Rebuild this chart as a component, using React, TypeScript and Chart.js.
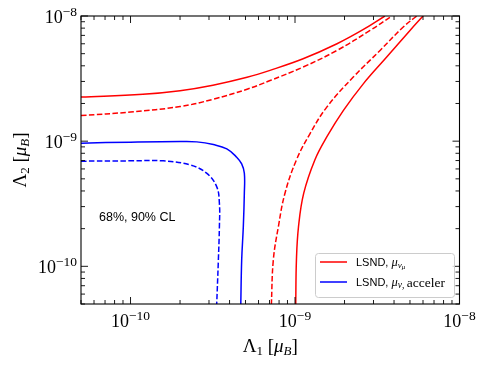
import React, { useEffect, useRef } from "react";
import { Chart, registerables } from "chart.js";

Chart.register(...registerables);

// ---- axis ranges and tick labels ----
const X_MIN = 5e-11;
const X_MAX = 1e-8;
const Y_MIN = 5e-11;
const Y_MAX = 1e-8;
const majorTicks = [1e-10, 1e-9, 1e-8];
const majorTickExponents = ["\u221210", "\u22129", "\u22128"];

// ---- LSND, mu_{nu_mu} (red) : solid and dashed contours ----
const redSolidUpperX = [5e-11, 1.19e-10, 2.0e-10, 3.17e-10, 5.11e-10, 7.05e-10, 1.12e-9, 1.8e-9, 2.59e-9, 3.52e-9];
const redSolidUpperY = [2.25e-9, 2.37e-9, 2.53e-9, 2.8e-9, 3.24e-9, 3.68e-9, 4.55e-9, 6.0e-9, 7.77e-9, 1.0e-8];
const redSolidLowerX = [1.01e-9, 1.02e-9, 1.05e-9, 1.13e-9, 1.32e-9, 1.56e-9, 1.97e-9, 2.6e-9, 3.61e-9, 5.0e-9, 6.0e-9];
const redSolidLowerY = [4.9e-11, 1.12e-10, 2.07e-10, 3.84e-10, 7.08e-10, 1.08e-9, 1.76e-9, 2.87e-9, 4.7e-9, 7.67e-9, 1.0e-8];

const redDashedUpperX = [5e-11, 1e-10, 2e-10, 3.17e-10, 5.11e-10, 7.05e-10, 1.12e-9, 1.8e-9, 2.86e-9, 3.88e-9];
const redDashedUpperY = [1.6e-9, 1.71e-9, 1.89e-9, 2.16e-9, 2.6e-9, 3.05e-9, 3.91e-9, 5.31e-9, 7.67e-9, 1.0e-8];
const redDashedLowerX = [7.18e-10, 7.38e-10, 7.92e-10, 8.69e-10, 1.02e-9, 1.23e-9, 1.56e-9, 2.26e-9, 3.29e-9, 4.55e-9, 5.5e-9];
const redDashedLowerY = [4.9e-11, 1.12e-10, 2.07e-10, 3.84e-10, 7.08e-10, 1.14e-9, 1.87e-9, 3.25e-9, 5.31e-9, 8.17e-9, 1.0e-8];

// ---- LSND, mu_{nu, acceler} (blue) ----
const blueSolidX = [5e-11, 1e-10, 2e-10, 2.53e-10, 3.19e-10, 3.85e-10, 4.42e-10, 4.74e-10, 4.92e-10, 4.92e-10, 4.85e-10, 4.74e-10, 4.68e-10];
const blueSolidY = [9.64e-10, 9.82e-10, 9.93e-10, 9.87e-10, 9.39e-10, 8.68e-10, 7.45e-10, 6.58e-10, 5.55e-10, 3.84e-10, 2.07e-10, 1.12e-10, 4.9e-11];
const blueDashedX = [5e-11, 1e-10, 1.58e-10, 2.3e-10, 2.9e-10, 3.34e-10, 3.47e-10, 3.47e-10, 3.42e-10, 3.34e-10];
const blueDashedY = [6.92e-10, 6.96e-10, 6.96e-10, 6.46e-10, 5.55e-10, 4.33e-10, 3.19e-10, 2.07e-10, 1.12e-10, 4.9e-11];

const RED = "#ff0000";
const BLUE = "#0000ff";
const SERIF = '"Liberation Serif", "DejaVu Serif", serif';
const SANS = '"Liberation Sans", Arial, sans-serif';

type Seg = { t: string; f: string; dy?: number };

function segsWidth(ctx: CanvasRenderingContext2D, segs: Seg[]) {
  let w = 0;
  for (const s of segs) {
    ctx.font = s.f;
    w += ctx.measureText(s.t).width;
  }
  return w;
}

function drawSegs(ctx: CanvasRenderingContext2D, segs: Seg[], x: number, y: number) {
  let cx = x;
  for (const s of segs) {
    ctx.font = s.f;
    ctx.fillText(s.t, cx, y + (s.dy || 0));
    cx += ctx.measureText(s.t).width;
  }
}

function pts(xs: number[], ys: number[]) {
  return xs.map((x, i) => ({ x, y: ys[i] }));
}

const decorPlugin = {
  id: "decor",
  afterDraw(chart: any) {
    const ctx: CanvasRenderingContext2D = chart.ctx;
    const { left, right, top, bottom } = chart.chartArea;
    const sx = chart.scales.x;
    const sy = chart.scales.y;
    ctx.save();
    ctx.textAlign = "left";
    ctx.textBaseline = "alphabetic";
    ctx.fillStyle = "#000";

    // frame
    ctx.strokeStyle = "#000";
    ctx.lineWidth = 1.1;
    ctx.strokeRect(left, top, right - left, bottom - top);

    // inward ticks on all four sides
    ctx.lineWidth = 0.9;
    ctx.beginPath();
    for (let e = -11; e <= -8; e++) {
      for (let m = 1; m <= 9; m++) {
        const v = m * Math.pow(10, e);
        const len = m === 1 ? 7 : 4;
        if (v >= X_MIN * 0.999 && v <= X_MAX * 1.001) {
          const px = sx.getPixelForValue(v);
          ctx.moveTo(px, bottom);
          ctx.lineTo(px, bottom - len);
          ctx.moveTo(px, top);
          ctx.lineTo(px, top + len);
        }
        if (v >= Y_MIN * 0.999 && v <= Y_MAX * 1.001) {
          const py = sy.getPixelForValue(v);
          ctx.moveTo(left, py);
          ctx.lineTo(left + len, py);
          ctx.moveTo(right, py);
          ctx.lineTo(right - len, py);
        }
      }
    }
    ctx.stroke();

    // tick labels 10^{exp}
    const big = "18px " + SERIF;
    const small = "13.5px " + SERIF;
    majorTicks.forEach((v, i) => {
      const segs: Seg[] = [
        { t: "10", f: big },
        { t: majorTickExponents[i], f: small, dy: -7 },
      ];
      const w = segsWidth(ctx, segs);
      const px = sx.getPixelForValue(v);
      drawSegs(ctx, segs, px - w / 2, bottom + 23);
      const py = sy.getPixelForValue(v);
      drawSegs(ctx, segs, left - 4 - w, py + 7);
    });

    // axis titles
    const tf = "19px " + SERIF;
    const tfi = "italic 19px " + SERIF;
    const sf = "13px " + SERIF;
    const sfi = "italic 13px " + SERIF;
    const xTitle: Seg[] = [
      { t: "\u039B", f: tf },
      { t: "1", f: sf, dy: 3 },
      { t: " [", f: tf },
      { t: "\u03BC", f: tfi },
      { t: "B", f: sfi, dy: 3 },
      { t: "]", f: tf },
    ];
    const xw = segsWidth(ctx, xTitle);
    drawSegs(ctx, xTitle, (left + right) / 2 - xw / 2, 352);

    const yTitle: Seg[] = [
      { t: "\u039B", f: tf },
      { t: "2", f: sf, dy: 3 },
      { t: " [", f: tf },
      { t: "\u03BC", f: tfi },
      { t: "B", f: sfi, dy: 3 },
      { t: "]", f: tf },
    ];
    const yw = segsWidth(ctx, yTitle);
    ctx.save();
    ctx.translate(26, (top + bottom) / 2);
    ctx.rotate(-Math.PI / 2);
    drawSegs(ctx, yTitle, -yw / 2, 0);
    ctx.restore();

    // annotation
    ctx.font = "12.5px " + SANS;
    ctx.fillText("68%, 90% CL", 99, 221);

    // legend
    const bx = 315, by = 253, bw = 139, bh = 44;
    ctx.beginPath();
    (ctx as any).roundRect(bx + 0.5, by + 0.5, bw, bh, 3);
    ctx.fillStyle = "rgba(255,255,255,0.8)";
    ctx.fill();
    ctx.strokeStyle = "#cccccc";
    ctx.lineWidth = 1;
    ctx.stroke();

    ctx.lineWidth = 1.5;
    ctx.strokeStyle = RED;
    ctx.beginPath();
    ctx.moveTo(320, 262);
    ctx.lineTo(347, 262);
    ctx.stroke();
    ctx.strokeStyle = BLUE;
    ctx.beginPath();
    ctx.moveTo(320, 282);
    ctx.lineTo(347, 282);
    ctx.stroke();

    ctx.fillStyle = "#000";
    const lf = "11px " + SANS;
    drawSegs(ctx, [
      { t: "LSND, ", f: lf },
      { t: "\u03BC", f: "italic 12.5px " + SERIF },
      { t: "\u03BD", f: "italic 9px " + SERIF, dy: 2 },
      { t: "\u03BC", f: "italic 7px " + SERIF, dy: 3.5 },
    ], 356, 265.5);
    drawSegs(ctx, [
      { t: "LSND, ", f: lf },
      { t: "\u03BC", f: "italic 12.5px " + SERIF },
      { t: "\u03BD, ", f: "italic 9.5px " + SERIF, dy: 2 },
      { t: "acceler", f: "13.5px " + SERIF, dy: 1 },
    ], 356, 285.5);

    ctx.restore();
  },
};

export default function App() {
  const ref = useRef<HTMLCanvasElement | null>(null);

  useEffect(() => {
    document.body.style.margin = "0";
    const canvas = ref.current;
    if (!canvas) return;
    const line = (xs: number[], ys: number[], color: string, dashed: boolean) => ({
      data: pts(xs, ys),
      borderColor: color,
      backgroundColor: color,
      borderWidth: 1.5,
      borderDash: dashed ? [5.5, 2.4] : [],
      showLine: true,
      pointRadius: 0,
      pointHoverRadius: 0,
      tension: 0.4,
      fill: false,
    });
    const chart = new Chart(canvas, {
      type: "scatter",
      data: {
        datasets: [
          { label: "LSND, \u03BC_\u03BD\u03BC", ...line(redSolidUpperX, redSolidUpperY, RED, false) },
          { label: "LSND, \u03BC_\u03BD\u03BC (lower)", ...line(redSolidLowerX, redSolidLowerY, RED, false) },
          { label: "LSND, \u03BC_\u03BD\u03BC dashed", ...line(redDashedUpperX, redDashedUpperY, RED, true) },
          { label: "LSND, \u03BC_\u03BD\u03BC dashed (lower)", ...line(redDashedLowerX, redDashedLowerY, RED, true) },
          { label: "LSND, \u03BC_\u03BD,acceler", ...line(blueSolidX, blueSolidY, BLUE, false) },
          { label: "LSND, \u03BC_\u03BD,acceler dashed", ...line(blueDashedX, blueDashedY, BLUE, true) },
        ] as any,
      },
      options: {
        animation: false,
        responsive: false,
        devicePixelRatio: 1,
        layout: { padding: { top: 16, right: 28.5, left: 0, bottom: 0 } },
        plugins: { legend: { display: false }, tooltip: { enabled: false } },
        events: [],
        scales: {
          x: {
            type: "logarithmic",
            min: X_MIN,
            max: X_MAX,
            position: "bottom",
            grid: { display: false },
            border: { display: false },
            ticks: { display: false },
            afterFit: (s: any) => {
              s.height = 62;
            },
          },
          y: {
            type: "logarithmic",
            min: Y_MIN,
            max: Y_MAX,
            position: "left",
            grid: { display: false },
            border: { display: false },
            ticks: { display: false },
            afterFit: (s: any) => {
              s.width = 81;
            },
          },
        },
      } as any,
      plugins: [decorPlugin],
    });
    return () => chart.destroy();
  }, []);

  return (
    <div style={{ position: "fixed", left: 0, top: 0, width: 488, height: 366, background: "#fff" }}>
      <canvas ref={ref} width={488} height={366} style={{ display: "block", width: 488, height: 366 }} />
    </div>
  );
}
